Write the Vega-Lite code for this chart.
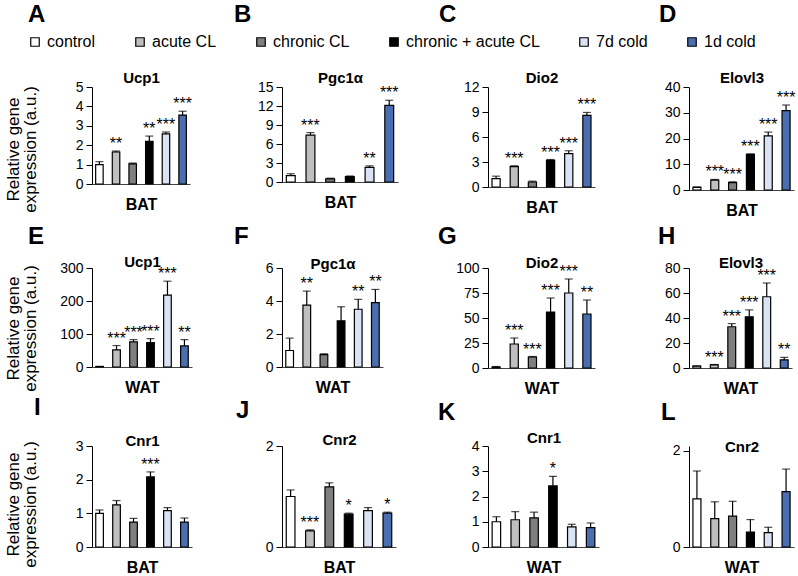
{
"$schema":"https://vega.github.io/schema/vega-lite/v6.json",
"padding":{"left":4,"top":3,"right":2,"bottom":2},
"background":"white",
"bounds":"flush",
"columns":4,
"spacing":{"row":78,"column":90},
"datasets":{"d":[
{"p":"A","g":"control","v":1.0,"hi":1.15,"s":""},{"p":"A","g":"acute CL","v":1.65,"hi":1.7,"s":"**"},{"p":"A","g":"chronic CL","v":1.04,"hi":1.08,"s":""},{"p":"A","g":"chronic + acute CL","v":2.2,"hi":2.47,"s":"**"},{"p":"A","g":"7d cold","v":2.58,"hi":2.68,"s":"***"},{"p":"A","g":"1d cold","v":3.55,"hi":3.75,"s":"***"},
{"p":"B","g":"control","v":1.0,"hi":1.3,"s":""},{"p":"B","g":"acute CL","v":7.4,"hi":7.8,"s":"***"},{"p":"B","g":"chronic CL","v":0.5,"hi":0.6,"s":""},{"p":"B","g":"chronic + acute CL","v":0.85,"hi":0.95,"s":""},{"p":"B","g":"7d cold","v":2.3,"hi":2.55,"s":"**"},{"p":"B","g":"1d cold","v":12.1,"hi":12.9,"s":"***"},
{"p":"C","g":"control","v":1.0,"hi":1.3,"s":""},{"p":"C","g":"acute CL","v":2.45,"hi":2.55,"s":"***"},{"p":"C","g":"chronic CL","v":0.6,"hi":0.7,"s":""},{"p":"C","g":"chronic + acute CL","v":3.2,"hi":3.3,"s":"***"},{"p":"C","g":"7d cold","v":4.0,"hi":4.35,"s":"***"},{"p":"C","g":"1d cold","v":8.6,"hi":8.95,"s":"***"},
{"p":"D","g":"control","v":1.0,"hi":1.2,"s":""},{"p":"D","g":"acute CL","v":3.8,"hi":4.1,"s":"***"},{"p":"D","g":"chronic CL","v":2.9,"hi":3.2,"s":"***"},{"p":"D","g":"chronic + acute CL","v":13.8,"hi":14.0,"s":"***"},{"p":"D","g":"7d cold","v":21,"hi":22.5,"s":"***"},{"p":"D","g":"1d cold","v":30.8,"hi":33,"s":"***"},
{"p":"E","g":"control","v":1.0,"hi":2.0,"s":""},{"p":"E","g":"acute CL","v":52,"hi":65,"s":"***"},{"p":"E","g":"chronic CL","v":76,"hi":83,"s":"***"},{"p":"E","g":"chronic + acute CL","v":74,"hi":86,"s":"***"},{"p":"E","g":"7d cold","v":218,"hi":260,"s":"***"},{"p":"E","g":"1d cold","v":64,"hi":83,"s":"**"},
{"p":"F","g":"control","v":1.0,"hi":1.75,"s":""},{"p":"F","g":"acute CL","v":3.75,"hi":4.6,"s":"**"},{"p":"F","g":"chronic CL","v":0.75,"hi":0.8,"s":""},{"p":"F","g":"chronic + acute CL","v":2.8,"hi":3.65,"s":""},{"p":"F","g":"7d cold","v":3.5,"hi":4.1,"s":"**"},{"p":"F","g":"1d cold","v":3.9,"hi":4.7,"s":"**"},
{"p":"G","g":"control","v":1.0,"hi":1.5,"s":""},{"p":"G","g":"acute CL","v":24,"hi":30,"s":"***"},{"p":"G","g":"chronic CL","v":11,"hi":11.5,"s":"***"},{"p":"G","g":"chronic + acute CL","v":56,"hi":70,"s":"***"},{"p":"G","g":"7d cold","v":75,"hi":89,"s":"***"},{"p":"G","g":"1d cold","v":54,"hi":68,"s":"**"},
{"p":"H","g":"control","v":1.5,"hi":1.7,"s":""},{"p":"H","g":"acute CL","v":2.5,"hi":2.8,"s":"***"},{"p":"H","g":"chronic CL","v":33,"hi":35.5,"s":"***"},{"p":"H","g":"chronic + acute CL","v":41,"hi":46.5,"s":"***"},{"p":"H","g":"7d cold","v":57,"hi":68,"s":"***"},{"p":"H","g":"1d cold","v":6.5,"hi":8.5,"s":"**"},
{"p":"I","g":"control","v":1.0,"hi":1.1,"s":""},{"p":"I","g":"acute CL","v":1.25,"hi":1.38,"s":""},{"p":"I","g":"chronic CL","v":0.74,"hi":0.85,"s":""},{"p":"I","g":"chronic + acute CL","v":2.08,"hi":2.23,"s":"***"},{"p":"I","g":"7d cold","v":1.08,"hi":1.17,"s":""},{"p":"I","g":"1d cold","v":0.74,"hi":0.86,"s":""},
{"p":"J","g":"control","v":1.0,"hi":1.13,"s":""},{"p":"J","g":"acute CL","v":0.32,"hi":0.34,"s":"***"},{"p":"J","g":"chronic CL","v":1.19,"hi":1.27,"s":""},{"p":"J","g":"chronic + acute CL","v":0.65,"hi":0.67,"s":"*"},{"p":"J","g":"7d cold","v":0.72,"hi":0.78,"s":""},{"p":"J","g":"1d cold","v":0.67,"hi":0.69,"s":"*"},
{"p":"K","g":"control","v":1.0,"hi":1.2,"s":""},{"p":"K","g":"acute CL","v":1.08,"hi":1.4,"s":""},{"p":"K","g":"chronic CL","v":1.15,"hi":1.38,"s":""},{"p":"K","g":"chronic + acute CL","v":2.42,"hi":2.8,"s":"*"},{"p":"K","g":"7d cold","v":0.8,"hi":0.9,"s":""},{"p":"K","g":"1d cold","v":0.77,"hi":0.95,"s":""},
{"p":"L","g":"control","v":1.0,"hi":1.58,"s":""},{"p":"L","g":"acute CL","v":0.59,"hi":0.94,"s":""},{"p":"L","g":"chronic CL","v":0.64,"hi":0.95,"s":""},{"p":"L","g":"chronic + acute CL","v":0.31,"hi":0.57,"s":""},{"p":"L","g":"7d cold","v":0.3,"hi":0.41,"s":""},{"p":"L","g":"1d cold","v":1.15,"hi":1.62,"s":""}
]},
"data":{"name":"d"},
"concat":[
{"width":98,"height":97,"title":{"text":"A","dx":-64,"dy":-39},"transform":[{"filter":"datum.p==='A'"}],
"encoding":{"x":{"field":"g","type":"nominal","sort":["control","acute CL","chronic CL","chronic + acute CL","7d cold","1d cold"],"axis":{"title":"BAT"}}},
"layer":[
{"mark":{"type":"bar"},"encoding":{"y":{"field":"v","type":"quantitative","scale":{"domain":[0,5]},"axis":{"values":[0,1,2,3,4,5],"format":"d","title":"Ucp1","titleX":49,"titleY":-5}},"color":{"field":"g","type":"nominal","scale":{"domain":["control","acute CL","chronic CL","chronic + acute CL","7d cold","1d cold"],"range":["#ffffff","#bfbfbf","#7f7f7f","#000000","#dae3f3","#4a6eb0"]},"legend":{"title":null,"orient":"none","legendX":-65,"legendY":-53,"direction":"horizontal","columns":6,"columnPadding":36,"symbolType":"square","symbolSize":72,"symbolStrokeColor":"black","symbolStrokeWidth":1.2,"labelFontSize":16,"labelOffset":4,"padding":0}}}},
{"mark":{"type":"rule"},"encoding":{"y":{"field":"v","type":"quantitative","scale":{"domain":[0,5]},"axis":{"orient":"right","domain":false,"ticks":false,"labels":false,"grid":false,"title":["Relative gene","expression (a.u.)"],"titleAngle":-90,"titleAlign":"center","titleBaseline":"top","titleFontSize":17,"titleFontWeight":"normal","titleLineHeight":17,"titleX":-185,"titleY":62}},"y2":{"field":"hi"}}},
{"mark":{"type":"tick","size":8},"encoding":{"y":{"field":"hi","type":"quantitative","scale":{"domain":[0,5]},"axis":null}}},
{"mark":{"type":"text"},"encoding":{"y":{"field":"hi","type":"quantitative","scale":{"domain":[0,5]},"axis":null},"text":{"field":"s"}}}
],"resolve":{"axis":{"y":"independent"}}},
{"width":116,"height":95,"title":{"text":"B","dx":-48,"dy":-39},"transform":[{"filter":"datum.p==='B'"}],
"encoding":{"x":{"field":"g","type":"nominal","sort":["control","acute CL","chronic CL","chronic + acute CL","7d cold","1d cold"],"axis":{"title":"BAT"}}},
"layer":[
{"mark":{"type":"bar"},"encoding":{"y":{"field":"v","type":"quantitative","scale":{"domain":[0,15]},"axis":{"values":[0,3,6,9,12,15],"format":"d","title":"Pgc1α","titleX":58,"titleY":-5}},"color":{"field":"g","type":"nominal","scale":{"domain":["control","acute CL","chronic CL","chronic + acute CL","7d cold","1d cold"],"range":["#ffffff","#bfbfbf","#7f7f7f","#000000","#dae3f3","#4a6eb0"]},"legend":{"title":null,"orient":"none","legendX":-65,"legendY":-53,"direction":"horizontal","columns":6,"columnPadding":36,"symbolType":"square","symbolSize":72,"symbolStrokeColor":"black","symbolStrokeWidth":1.2,"labelFontSize":16,"labelOffset":4,"padding":0}}}},
{"mark":{"type":"rule"},"encoding":{"y":{"field":"v","type":"quantitative","scale":{"domain":[0,15]},"axis":null},"y2":{"field":"hi"}}},
{"mark":{"type":"tick","size":8},"encoding":{"y":{"field":"hi","type":"quantitative","scale":{"domain":[0,15]},"axis":null}}},
{"mark":{"type":"text"},"encoding":{"y":{"field":"hi","type":"quantitative","scale":{"domain":[0,15]},"axis":null},"text":{"field":"s"}}}
],"resolve":{"axis":{"y":"independent"}}},
{"width":107,"height":100,"title":{"text":"C","dx":-49,"dy":-39},"transform":[{"filter":"datum.p==='C'"}],
"encoding":{"x":{"field":"g","type":"nominal","sort":["control","acute CL","chronic CL","chronic + acute CL","7d cold","1d cold"],"axis":{"title":"BAT"}}},
"layer":[
{"mark":{"type":"bar"},"encoding":{"y":{"field":"v","type":"quantitative","scale":{"domain":[0,12]},"axis":{"values":[0,3,6,9,12],"format":"d","title":"Dio2","titleX":53.5,"titleY":-5}},"color":{"field":"g","type":"nominal","scale":{"domain":["control","acute CL","chronic CL","chronic + acute CL","7d cold","1d cold"],"range":["#ffffff","#bfbfbf","#7f7f7f","#000000","#dae3f3","#4a6eb0"]},"legend":{"title":null,"orient":"none","legendX":-65,"legendY":-53,"direction":"horizontal","columns":6,"columnPadding":36,"symbolType":"square","symbolSize":72,"symbolStrokeColor":"black","symbolStrokeWidth":1.2,"labelFontSize":16,"labelOffset":4,"padding":0}}}},
{"mark":{"type":"rule"},"encoding":{"y":{"field":"v","type":"quantitative","scale":{"domain":[0,12]},"axis":null},"y2":{"field":"hi"}}},
{"mark":{"type":"tick","size":8},"encoding":{"y":{"field":"hi","type":"quantitative","scale":{"domain":[0,12]},"axis":null}}},
{"mark":{"type":"text"},"encoding":{"y":{"field":"hi","type":"quantitative","scale":{"domain":[0,12]},"axis":null},"text":{"field":"s"}}}
],"resolve":{"axis":{"y":"independent"}}},
{"width":105,"height":103,"title":{"text":"D","dx":-30,"dy":-39},"transform":[{"filter":"datum.p==='D'"}],
"encoding":{"x":{"field":"g","type":"nominal","sort":["control","acute CL","chronic CL","chronic + acute CL","7d cold","1d cold"],"axis":{"title":"BAT"}}},
"layer":[
{"mark":{"type":"bar"},"encoding":{"y":{"field":"v","type":"quantitative","scale":{"domain":[0,40]},"axis":{"values":[0,10,20,30,40],"format":"d","title":"Elovl3","titleX":52.5,"titleY":-5}},"color":{"field":"g","type":"nominal","scale":{"domain":["control","acute CL","chronic CL","chronic + acute CL","7d cold","1d cold"],"range":["#ffffff","#bfbfbf","#7f7f7f","#000000","#dae3f3","#4a6eb0"]},"legend":{"title":null,"orient":"none","legendX":-65,"legendY":-53,"direction":"horizontal","columns":6,"columnPadding":36,"symbolType":"square","symbolSize":72,"symbolStrokeColor":"black","symbolStrokeWidth":1.2,"labelFontSize":16,"labelOffset":4,"padding":0}}}},
{"mark":{"type":"rule"},"encoding":{"y":{"field":"v","type":"quantitative","scale":{"domain":[0,40]},"axis":null},"y2":{"field":"hi"}}},
{"mark":{"type":"tick","size":8},"encoding":{"y":{"field":"hi","type":"quantitative","scale":{"domain":[0,40]},"axis":null}}},
{"mark":{"type":"text"},"encoding":{"y":{"field":"hi","type":"quantitative","scale":{"domain":[0,40]},"axis":null},"text":{"field":"s"}}}
],"resolve":{"axis":{"y":"independent"}}},
{"width":100,"height":99,"title":{"text":"E","dx":-64,"dy":-1},"transform":[{"filter":"datum.p==='E'"}],
"encoding":{"x":{"field":"g","type":"nominal","sort":["control","acute CL","chronic CL","chronic + acute CL","7d cold","1d cold"],"axis":{"title":"WAT"}}},
"layer":[
{"mark":{"type":"bar"},"encoding":{"y":{"field":"v","type":"quantitative","scale":{"domain":[0,300]},"axis":{"values":[0,100,200,300],"format":"d","title":"Ucp1","titleX":50,"titleY":-2}},"color":{"field":"g","type":"nominal","scale":{"domain":["control","acute CL","chronic CL","chronic + acute CL","7d cold","1d cold"],"range":["#ffffff","#bfbfbf","#7f7f7f","#000000","#dae3f3","#4a6eb0"]},"legend":{"title":null,"orient":"none","legendX":-65,"legendY":-53,"direction":"horizontal","columns":6,"columnPadding":36,"symbolType":"square","symbolSize":72,"symbolStrokeColor":"black","symbolStrokeWidth":1.2,"labelFontSize":16,"labelOffset":4,"padding":0}}}},
{"mark":{"type":"rule"},"encoding":{"y":{"field":"v","type":"quantitative","scale":{"domain":[0,300]},"axis":{"orient":"right","domain":false,"ticks":false,"labels":false,"grid":false,"title":["Relative gene","expression (a.u.)"],"titleAngle":-90,"titleAlign":"center","titleBaseline":"top","titleFontSize":17,"titleFontWeight":"normal","titleLineHeight":17,"titleX":-187,"titleY":60}},"y2":{"field":"hi"}}},
{"mark":{"type":"tick","size":8},"encoding":{"y":{"field":"hi","type":"quantitative","scale":{"domain":[0,300]},"axis":null}}},
{"mark":{"type":"text"},"encoding":{"y":{"field":"hi","type":"quantitative","scale":{"domain":[0,300]},"axis":null},"text":{"field":"s"}}}
],"resolve":{"axis":{"y":"independent"}}},
{"width":101,"height":99,"title":{"text":"F","dx":-48,"dy":-3},"transform":[{"filter":"datum.p==='F'"}],
"encoding":{"x":{"field":"g","type":"nominal","sort":["control","acute CL","chronic CL","chronic + acute CL","7d cold","1d cold"],"axis":{"title":"WAT"}}},
"layer":[
{"mark":{"type":"bar"},"encoding":{"y":{"field":"v","type":"quantitative","scale":{"domain":[0,6]},"axis":{"values":[0,2,4,6],"format":"d","title":"Pgc1α","titleX":50.5,"titleY":0}},"color":{"field":"g","type":"nominal","scale":{"domain":["control","acute CL","chronic CL","chronic + acute CL","7d cold","1d cold"],"range":["#ffffff","#bfbfbf","#7f7f7f","#000000","#dae3f3","#4a6eb0"]},"legend":{"title":null,"orient":"none","legendX":-65,"legendY":-53,"direction":"horizontal","columns":6,"columnPadding":36,"symbolType":"square","symbolSize":72,"symbolStrokeColor":"black","symbolStrokeWidth":1.2,"labelFontSize":16,"labelOffset":4,"padding":0}}}},
{"mark":{"type":"rule"},"encoding":{"y":{"field":"v","type":"quantitative","scale":{"domain":[0,6]},"axis":null},"y2":{"field":"hi"}}},
{"mark":{"type":"tick","size":8},"encoding":{"y":{"field":"hi","type":"quantitative","scale":{"domain":[0,6]},"axis":null}}},
{"mark":{"type":"text"},"encoding":{"y":{"field":"hi","type":"quantitative","scale":{"domain":[0,6]},"axis":null},"text":{"field":"s"}}}
],"resolve":{"axis":{"y":"independent"}}},
{"width":107,"height":100,"title":{"text":"G","dx":-50,"dy":-2},"transform":[{"filter":"datum.p==='G'"}],
"encoding":{"x":{"field":"g","type":"nominal","sort":["control","acute CL","chronic CL","chronic + acute CL","7d cold","1d cold"],"axis":{"title":"WAT"}}},
"layer":[
{"mark":{"type":"bar"},"encoding":{"y":{"field":"v","type":"quantitative","scale":{"domain":[0,100]},"axis":{"values":[0,25,50,75,100],"format":"d","title":"Dio2","titleX":53.5,"titleY":-1}},"color":{"field":"g","type":"nominal","scale":{"domain":["control","acute CL","chronic CL","chronic + acute CL","7d cold","1d cold"],"range":["#ffffff","#bfbfbf","#7f7f7f","#000000","#dae3f3","#4a6eb0"]},"legend":{"title":null,"orient":"none","legendX":-65,"legendY":-53,"direction":"horizontal","columns":6,"columnPadding":36,"symbolType":"square","symbolSize":72,"symbolStrokeColor":"black","symbolStrokeWidth":1.2,"labelFontSize":16,"labelOffset":4,"padding":0}}}},
{"mark":{"type":"rule"},"encoding":{"y":{"field":"v","type":"quantitative","scale":{"domain":[0,100]},"axis":null},"y2":{"field":"hi"}}},
{"mark":{"type":"tick","size":8},"encoding":{"y":{"field":"hi","type":"quantitative","scale":{"domain":[0,100]},"axis":null}}},
{"mark":{"type":"text"},"encoding":{"y":{"field":"hi","type":"quantitative","scale":{"domain":[0,100]},"axis":null},"text":{"field":"s"}}}
],"resolve":{"axis":{"y":"independent"}}},
{"width":103,"height":100,"title":{"text":"H","dx":-31,"dy":-2},"transform":[{"filter":"datum.p==='H'"}],
"encoding":{"x":{"field":"g","type":"nominal","sort":["control","acute CL","chronic CL","chronic + acute CL","7d cold","1d cold"],"axis":{"title":"WAT"}}},
"layer":[
{"mark":{"type":"bar"},"encoding":{"y":{"field":"v","type":"quantitative","scale":{"domain":[0,80]},"axis":{"values":[0,20,40,60,80],"format":"d","title":"Elovl3","titleX":51.5,"titleY":-1}},"color":{"field":"g","type":"nominal","scale":{"domain":["control","acute CL","chronic CL","chronic + acute CL","7d cold","1d cold"],"range":["#ffffff","#bfbfbf","#7f7f7f","#000000","#dae3f3","#4a6eb0"]},"legend":{"title":null,"orient":"none","legendX":-65,"legendY":-53,"direction":"horizontal","columns":6,"columnPadding":36,"symbolType":"square","symbolSize":72,"symbolStrokeColor":"black","symbolStrokeWidth":1.2,"labelFontSize":16,"labelOffset":4,"padding":0}}}},
{"mark":{"type":"rule"},"encoding":{"y":{"field":"v","type":"quantitative","scale":{"domain":[0,80]},"axis":null},"y2":{"field":"hi"}}},
{"mark":{"type":"tick","size":8},"encoding":{"y":{"field":"hi","type":"quantitative","scale":{"domain":[0,80]},"axis":null}}},
{"mark":{"type":"text"},"encoding":{"y":{"field":"hi","type":"quantitative","scale":{"domain":[0,80]},"axis":null},"text":{"field":"s"}}}
],"resolve":{"axis":{"y":"independent"}}},
{"width":100,"height":101,"title":{"text":"I","dx":-58,"dy":-9},"transform":[{"filter":"datum.p==='I'"}],
"encoding":{"x":{"field":"g","type":"nominal","sort":["control","acute CL","chronic CL","chronic + acute CL","7d cold","1d cold"],"axis":{"title":"BAT"}}},
"layer":[
{"mark":{"type":"bar"},"encoding":{"y":{"field":"v","type":"quantitative","scale":{"domain":[0,3]},"axis":{"values":[0,1,2,3],"format":"d","title":"Cnr1","titleX":50,"titleY":-1}},"color":{"field":"g","type":"nominal","scale":{"domain":["control","acute CL","chronic CL","chronic + acute CL","7d cold","1d cold"],"range":["#ffffff","#bfbfbf","#7f7f7f","#000000","#dae3f3","#4a6eb0"]},"legend":{"title":null,"orient":"none","legendX":-65,"legendY":-53,"direction":"horizontal","columns":6,"columnPadding":36,"symbolType":"square","symbolSize":72,"symbolStrokeColor":"black","symbolStrokeWidth":1.2,"labelFontSize":16,"labelOffset":4,"padding":0}}}},
{"mark":{"type":"rule"},"encoding":{"y":{"field":"v","type":"quantitative","scale":{"domain":[0,3]},"axis":{"orient":"right","domain":false,"ticks":false,"labels":false,"grid":false,"title":["Relative gene","expression (a.u.)"],"titleAngle":-90,"titleAlign":"center","titleBaseline":"top","titleFontSize":17,"titleFontWeight":"normal","titleLineHeight":17,"titleX":-187,"titleY":58}},"y2":{"field":"hi"}}},
{"mark":{"type":"tick","size":8},"encoding":{"y":{"field":"hi","type":"quantitative","scale":{"domain":[0,3]},"axis":null}}},
{"mark":{"type":"text"},"encoding":{"y":{"field":"hi","type":"quantitative","scale":{"domain":[0,3]},"axis":null},"text":{"field":"s"}}}
],"resolve":{"axis":{"y":"independent"}}},
{"width":114,"height":101,"title":{"text":"J","dx":-46,"dy":-5},"transform":[{"filter":"datum.p==='J'"}],
"encoding":{"x":{"field":"g","type":"nominal","sort":["control","acute CL","chronic CL","chronic + acute CL","7d cold","1d cold"],"axis":{"title":"BAT"}}},
"layer":[
{"mark":{"type":"bar"},"encoding":{"y":{"field":"v","type":"quantitative","scale":{"domain":[0,2]},"axis":{"values":[0,1,2],"format":"d","title":"Cnr2","titleX":57,"titleY":-2}},"color":{"field":"g","type":"nominal","scale":{"domain":["control","acute CL","chronic CL","chronic + acute CL","7d cold","1d cold"],"range":["#ffffff","#bfbfbf","#7f7f7f","#000000","#dae3f3","#4a6eb0"]},"legend":{"title":null,"orient":"none","legendX":-65,"legendY":-53,"direction":"horizontal","columns":6,"columnPadding":36,"symbolType":"square","symbolSize":72,"symbolStrokeColor":"black","symbolStrokeWidth":1.2,"labelFontSize":16,"labelOffset":4,"padding":0}}}},
{"mark":{"type":"rule"},"encoding":{"y":{"field":"v","type":"quantitative","scale":{"domain":[0,2]},"axis":null},"y2":{"field":"hi"}}},
{"mark":{"type":"tick","size":8},"encoding":{"y":{"field":"hi","type":"quantitative","scale":{"domain":[0,2]},"axis":null}}},
{"mark":{"type":"text"},"encoding":{"y":{"field":"hi","type":"quantitative","scale":{"domain":[0,2]},"axis":null},"text":{"field":"s"}}}
],"resolve":{"axis":{"y":"independent"}}},
{"width":111,"height":101,"title":{"text":"K","dx":-50,"dy":-1},"transform":[{"filter":"datum.p==='K'"}],
"encoding":{"x":{"field":"g","type":"nominal","sort":["control","acute CL","chronic CL","chronic + acute CL","7d cold","1d cold"],"axis":{"title":"WAT"}}},
"layer":[
{"mark":{"type":"bar"},"encoding":{"y":{"field":"v","type":"quantitative","scale":{"domain":[0,4]},"axis":{"values":[0,1,2,3,4],"format":"d","title":"Cnr1","titleX":55.5,"titleY":-4}},"color":{"field":"g","type":"nominal","scale":{"domain":["control","acute CL","chronic CL","chronic + acute CL","7d cold","1d cold"],"range":["#ffffff","#bfbfbf","#7f7f7f","#000000","#dae3f3","#4a6eb0"]},"legend":{"title":null,"orient":"none","legendX":-65,"legendY":-53,"direction":"horizontal","columns":6,"columnPadding":36,"symbolType":"square","symbolSize":72,"symbolStrokeColor":"black","symbolStrokeWidth":1.2,"labelFontSize":16,"labelOffset":4,"padding":0}}}},
{"mark":{"type":"rule"},"encoding":{"y":{"field":"v","type":"quantitative","scale":{"domain":[0,4]},"axis":null},"y2":{"field":"hi"}}},
{"mark":{"type":"tick","size":8},"encoding":{"y":{"field":"hi","type":"quantitative","scale":{"domain":[0,4]},"axis":null}}},
{"mark":{"type":"text"},"encoding":{"y":{"field":"hi","type":"quantitative","scale":{"domain":[0,4]},"axis":null},"text":{"field":"s"}}}
],"resolve":{"axis":{"y":"independent"}}},
{"width":105,"height":101,"title":{"text":"L","dx":-28,"dy":-10},"transform":[{"filter":"datum.p==='L'"}],
"encoding":{"x":{"field":"g","type":"nominal","sort":["control","acute CL","chronic CL","chronic + acute CL","7d cold","1d cold"],"axis":{"title":"WAT"}}},
"layer":[
{"mark":{"type":"bar"},"encoding":{"y":{"field":"v","type":"quantitative","scale":{"domain":[0,2.1]},"axis":{"values":[0,1,2],"format":"d","title":"Cnr2","titleX":52.5,"titleY":5}},"color":{"field":"g","type":"nominal","scale":{"domain":["control","acute CL","chronic CL","chronic + acute CL","7d cold","1d cold"],"range":["#ffffff","#bfbfbf","#7f7f7f","#000000","#dae3f3","#4a6eb0"]},"legend":{"title":null,"orient":"none","legendX":-65,"legendY":-53,"direction":"horizontal","columns":6,"columnPadding":36,"symbolType":"square","symbolSize":72,"symbolStrokeColor":"black","symbolStrokeWidth":1.2,"labelFontSize":16,"labelOffset":4,"padding":0}}}},
{"mark":{"type":"rule"},"encoding":{"y":{"field":"v","type":"quantitative","scale":{"domain":[0,2.1]},"axis":null},"y2":{"field":"hi"}}},
{"mark":{"type":"tick","size":8},"encoding":{"y":{"field":"hi","type":"quantitative","scale":{"domain":[0,2.1]},"axis":null}}},
{"mark":{"type":"text"},"encoding":{"y":{"field":"hi","type":"quantitative","scale":{"domain":[0,2.1]},"axis":null},"text":{"field":"s"}}}
],"resolve":{"axis":{"y":"independent"}}}
],
"config":{
"font":"Liberation Sans",
"view":{"stroke":null},
"scale":{"bandPaddingInner":0.55,"bandPaddingOuter":0.22},
"title":{"fontSize":24,"fontWeight":"bold","frame":"group","baseline":"alphabetic","offset":0,"anchor":"start","align":"left","color":"black"},
"axis":{"grid":false,"labelFontSize":14,"labelColor":"black","labelPadding":3,"tickSize":6,"tickColor":"black","domainColor":"black","tickWidth":1,"domainWidth":1,"titleColor":"black"},
"axisLeft":{"titleAngle":0,"titleAlign":"center","titleBaseline":"alphabetic","titleFontSize":15,"titleFontWeight":"bold"},
"axisBottom":{"labels":false,"ticks":false,"domainColor":"#444444","titleFontSize":16,"titleFontWeight":"bold","titleY":25,"titleBaseline":"alphabetic"},
"bar":{"stroke":"black","strokeWidth":1.2},
"rule":{"color":"black","strokeWidth":1.2},
"tick":{"color":"black","thickness":1.2},
"text":{"fontSize":16,"dy":-2,"baseline":"alphabetic","align":"center","color":"black"},
"legend":{"labelColor":"black"}
}
}
